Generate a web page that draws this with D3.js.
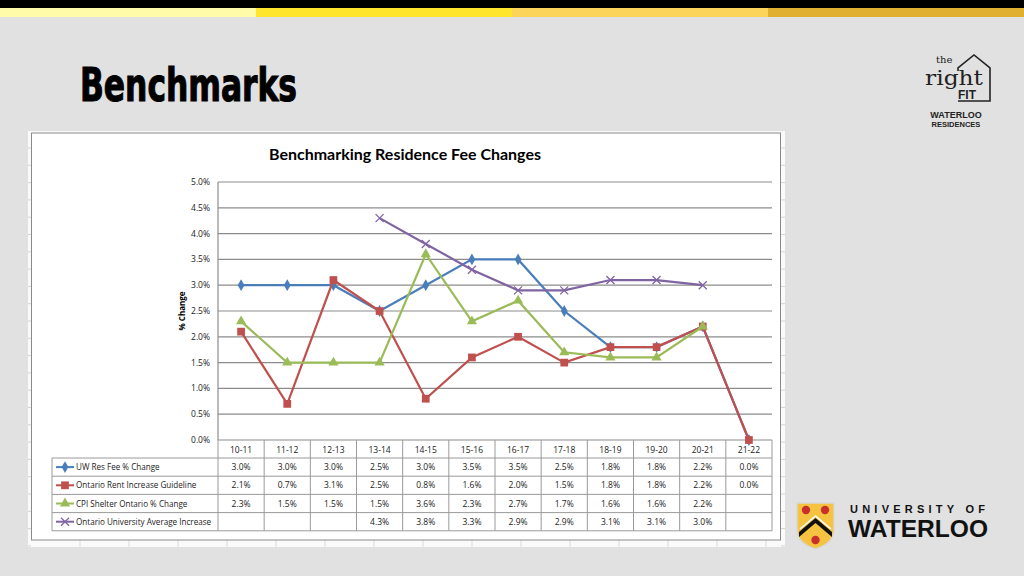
<!DOCTYPE html>
<html>
<head>
<meta charset="utf-8">
<script src="https://cdn.jsdelivr.net/npm/d3@7/dist/d3.min.js"></script>
<style>
  html, body { margin: 0; padding: 0; background: #e1e1e1; }
  svg { display: block; }
</style>
</head>
<body>
<svg id="slide" width="1024" height="576"></svg>
<script>
// data
const categories = ['10-11', '11-12', '12-13', '13-14', '14-15', '15-16', '16-17', '17-18', '18-19', '19-20', '20-21', '21-22'];
const uwFee      = [3.0, 3.0, 3.0, 2.5, 3.0, 3.5, 3.5, 2.5, 1.8, 1.8, 2.2, 0.0];
const rentGuide  = [2.1, 0.7, 3.1, 2.5, 0.8, 1.6, 2.0, 1.5, 1.8, 1.8, 2.2, 0.0];
const cpiShelter = [2.3, 1.5, 1.5, 1.5, 3.6, 2.3, 2.7, 1.7, 1.6, 1.6, 2.2, null];
const ontUniv    = [null, null, null, 4.3, 3.8, 3.3, 2.9, 2.9, 3.1, 3.1, 3.0, null];
const yTicks     = [0, 0.5, 1, 1.5, 2, 2.5, 3, 3.5, 4, 4.5, 5];

const seriesNames = ['UW Res Fee % Change', 'Ontario Rent Increase Guideline', 'CPI Shelter Ontario % Change', 'Ontario University Average Increase'];
const seriesColors = ['#4a7ebb', '#c0504d', '#9bbb59', '#8064a2'];
const seriesMarkers = ['diamond', 'square', 'triangle', 'cross'];
const series = [uwFee, rentGuide, cpiShelter, ontUniv];

const svg = d3.select('#slide');
const font = "'Open Sans', 'DejaVu Sans', sans-serif";

// top stripes
svg.append('rect').attr('x', 0).attr('y', 0).attr('width', 1024).attr('height', 8).attr('fill', '#000');
const stripeColors = ['#fffba8', '#ffe52c', '#fcd45a', '#e0b030'];
svg.selectAll('.stripe')
  .data(stripeColors)
  .enter()
  .append('rect')
  .attr('x', (d, i) => i * 256)
  .attr('y', 8)
  .attr('width', 256)
  .attr('height', 9)
  .attr('fill', d => d);

// slide title
svg.append('text')
  .attr('x', 80)
  .attr('y', 101)
  .attr('textLength', 217)
  .attr('lengthAdjust', 'spacingAndGlyphs')
  .style('font-family', "'Liberation Sans Narrow', 'DejaVu Sans Condensed', 'Liberation Sans', sans-serif")
  .style('font-weight', 'bold')
  .style('font-size', '47px')
  .attr('fill', '#000')
  .attr('stroke', '#000')
  .attr('stroke-width', 1.1)
  .text('Benchmarks');

// pasted spreadsheet image frame
svg.append('rect').attr('x', 28).attr('y', 131).attr('width', 757).attr('height', 416).attr('fill', '#fafafa');
for (let yy = 148; yy < 546; yy += 17.3) {
  svg.append('line').attr('x1', 28).attr('x2', 31).attr('y1', yy).attr('y2', yy).attr('stroke', '#d4d4d4');
  svg.append('line').attr('x1', 781).attr('x2', 785).attr('y1', yy).attr('y2', yy).attr('stroke', '#d4d4d4');
}
for (let xx = 80; xx < 785; xx += 49) {
  svg.append('line').attr('x1', xx).attr('x2', xx).attr('y1', 540).attr('y2', 547).attr('stroke', '#dadada');
}
svg.append('rect').attr('x', 31.5).attr('y', 133).attr('width', 749).attr('height', 407)
  .attr('fill', '#fff').attr('stroke', '#8a8a8a').attr('stroke-width', 1);

// chart area
const plotLeft = 218, plotRight = 772, plotTop = 182, plotBottom = 440;

const x = d3.scaleBand()
  .domain(categories)
  .range([plotLeft, plotRight]);

const y = d3.scaleLinear()
  .domain([0, 5])
  .range([plotBottom, plotTop]);

svg.append('text')
  .attr('x', 405)
  .attr('y', 160)
  .attr('text-anchor', 'middle')
  .attr('textLength', 272)
  .attr('lengthAdjust', 'spacingAndGlyphs')
  .style('font-family', "Lato, 'Open Sans', sans-serif")
  .style('font-weight', 'bold')
  .style('font-size', '16px')
  .text('Benchmarking Residence Fee Changes');

// gridlines
svg.append('g')
  .selectAll('line')
  .data(yTicks)
  .enter()
  .append('line')
  .attr('x1', plotLeft)
  .attr('x2', plotRight)
  .attr('y1', d => y(d))
  .attr('y2', d => y(d))
  .attr('stroke', '#8c8c8c')
  .attr('stroke-width', 1.2);

svg.append('line')
  .attr('x1', plotLeft).attr('x2', plotLeft)
  .attr('y1', plotTop).attr('y2', plotBottom)
  .attr('stroke', '#8c8c8c').attr('stroke-width', 1.2);

// y axis labels
svg.append('g')
  .selectAll('text')
  .data(yTicks)
  .enter()
  .append('text')
  .attr('x', 210)
  .attr('y', d => y(d) + 3)
  .attr('text-anchor', 'end')
  .style('font-family', font)
  .style('font-size', '8.5px')
  .attr('fill', '#222')
  .text(d => d.toFixed(1) + '%');

svg.append('text')
  .attr('transform', `translate(185, ${(plotTop + plotBottom) / 2}) rotate(-90)`)
  .attr('text-anchor', 'middle')
  .style('font-family', font)
  .style('font-weight', 'bold')
  .style('font-size', '8px')
  .text('% Change');

// marker shapes
function markerPath(type, size) {
  if (type === 'diamond') return d3.symbol(d3.symbolDiamond, size)();
  if (type === 'square') return d3.symbol(d3.symbolSquare, size)();
  if (type === 'triangle') return d3.symbol(d3.symbolTriangle, size)();
  return d3.symbol(d3.symbolCross, size)();
}

function drawMarker(g, type, color, cx, cy) {
  if (type === 'cross') {
    g.append('path')
      .attr('d', `M${cx - 4},${cy - 4}L${cx + 4},${cy + 4}M${cx - 4},${cy + 4}L${cx + 4},${cy - 4}`)
      .attr('stroke', color).attr('stroke-width', 1.3).attr('fill', 'none');
    return;
  }
  const sizes = { diamond: 40, square: 60, triangle: 45 };
  g.append('path')
    .attr('d', markerPath(type, sizes[type]))
    .attr('transform', `translate(${cx}, ${cy})`)
    .attr('fill', color);
}

const line = d3.line()
  .defined(d => d.v !== null)
  .x(d => x(d.c) + x.bandwidth() / 2)
  .y(d => y(d.v));

series.forEach((vals, i) => {
  const pts = categories.map((c, j) => ({ c: c, v: vals[j] }));
  const g = svg.append('g');
  g.append('path')
    .datum(pts)
    .attr('d', line)
    .attr('fill', 'none')
    .attr('stroke', seriesColors[i])
    .attr('stroke-width', 2.2);
  pts.filter(p => p.v !== null).forEach(p => {
    drawMarker(g, seriesMarkers[i], seriesColors[i], x(p.c) + x.bandwidth() / 2, y(p.v));
  });
});

// data table
const tableLeft = 52;
const headerBottom = 458;
const rowH = 18.2;
const tableBottom = headerBottom + rowH * series.length;
const tableStroke = '#9a9a9a';

const table = svg.append('g');

// category header
table.selectAll('.cat')
  .data(categories)
  .enter()
  .append('text')
  .attr('x', d => x(d) + x.bandwidth() / 2)
  .attr('y', plotBottom + 12.5)
  .attr('text-anchor', 'middle')
  .style('font-family', font)
  .style('font-size', '8.5px')
  .attr('fill', '#222')
  .text(d => d);

// vertical lines
const vLines = categories.map(c => x(c)).concat([plotRight]);
table.selectAll('.vl')
  .data(vLines)
  .enter()
  .append('line')
  .attr('x1', d => d).attr('x2', d => d)
  .attr('y1', plotBottom).attr('y2', tableBottom)
  .attr('stroke', tableStroke);

table.append('line')
  .attr('x1', tableLeft).attr('x2', tableLeft)
  .attr('y1', headerBottom).attr('y2', tableBottom)
  .attr('stroke', tableStroke);

// horizontal lines
for (let r = 0; r <= series.length; r++) {
  table.append('line')
    .attr('x1', tableLeft).attr('x2', plotRight)
    .attr('y1', headerBottom + r * rowH).attr('y2', headerBottom + r * rowH)
    .attr('stroke', tableStroke);
}

series.forEach((vals, i) => {
  const rowY = headerBottom + i * rowH;
  const cy = rowY + rowH / 2;
  // legend key
  table.append('line')
    .attr('x1', 56).attr('x2', 74)
    .attr('y1', cy).attr('y2', cy)
    .attr('stroke', seriesColors[i]).attr('stroke-width', 2);
  drawMarker(table, seriesMarkers[i], seriesColors[i], 65, cy);
  table.append('text')
    .attr('x', 76)
    .attr('y', cy + 3)
    .style('font-family', font)
    .style('font-size', '8.1px')
    .attr('fill', '#222')
    .text(seriesNames[i]);
  categories.forEach((c, j) => {
    if (vals[j] === null) return;
    table.append('text')
      .attr('x', x(c) + x.bandwidth() / 2)
      .attr('y', cy + 3)
      .attr('text-anchor', 'middle')
      .style('font-family', font)
      .style('font-size', '8.5px')
      .attr('fill', '#222')
      .text(vals[j].toFixed(1) + '%');
  });
});

// "the right FIT" logo
const logo = svg.append('g');
logo.append('path')
  .attr('d', 'M958,101 L990,101 L990,68 L974,55 L958,68 L958,71')
  .attr('fill', 'none').attr('stroke', '#222').attr('stroke-width', 1.6);
logo.append('text').attr('x', 936).attr('y', 63)
  .style('font-family', "'DejaVu Serif', 'Liberation Serif', serif").style('font-size', '10px').attr('fill', '#222').text('the');
logo.append('text').attr('x', 925).attr('y', 85)
  .style('font-family', "'DejaVu Serif', 'Liberation Serif', serif").style('font-size', '20px').attr('fill', '#222')
  .attr('textLength', 58).attr('lengthAdjust', 'spacingAndGlyphs').text('right');
logo.append('text').attr('x', 958).attr('y', 99)
  .style('font-family', "'Liberation Sans', sans-serif").style('font-weight', 'bold').style('font-size', '12px').attr('fill', '#222').text('FIT');
logo.append('text').attr('x', 956).attr('y', 118).attr('text-anchor', 'middle')
  .style('font-family', "'Liberation Sans', sans-serif").style('font-weight', 'bold').style('font-size', '9px').attr('fill', '#222').text('WATERLOO');
logo.append('text').attr('x', 956).attr('y', 127).attr('text-anchor', 'middle')
  .style('font-family', "'Liberation Sans', sans-serif").style('font-weight', 'bold').style('font-size', '7.5px').attr('fill', '#222').text('RESIDENCES');

// University of Waterloo logo
const uw = svg.append('g');
uw.append('path')
  .attr('d', 'M797,503 L834,503 L834,530 Q834,543 815.5,549 Q797,543 797,530 Z')
  .attr('fill', '#f6c340').attr('stroke', '#d8d8d8').attr('stroke-width', 1.5);
uw.append('path')
  .attr('d', 'M799,532 L815.5,518 L832,532 L832,537 L815.5,523 L799,537 Z')
  .attr('fill', '#111');
uw.append('path')
  .attr('d', 'M800,529 L815.5,516 L831,529')
  .attr('fill', 'none').attr('stroke', '#fff').attr('stroke-width', 1.5);
[[806, 510], [825, 510], [815.5, 540]].forEach(p => {
  uw.append('circle').attr('cx', p[0]).attr('cy', p[1]).attr('r', 4.2).attr('fill', '#c8302b');
});
uw.append('text').attr('x', 850).attr('y', 513)
  .attr('textLength', 135).attr('lengthAdjust', 'spacing')
  .style('font-family', "'Liberation Sans', sans-serif").style('font-weight', 'bold').style('font-size', '11px').attr('fill', '#111')
  .text('UNIVERSITY OF');
uw.append('text').attr('x', 848).attr('y', 537)
  .attr('textLength', 140).attr('lengthAdjust', 'spacingAndGlyphs')
  .style('font-family', "'Liberation Sans', sans-serif").style('font-weight', 'bold').style('font-size', '23px').attr('fill', '#111')
  .text('WATERLOO');
</script>
</body>
</html>
